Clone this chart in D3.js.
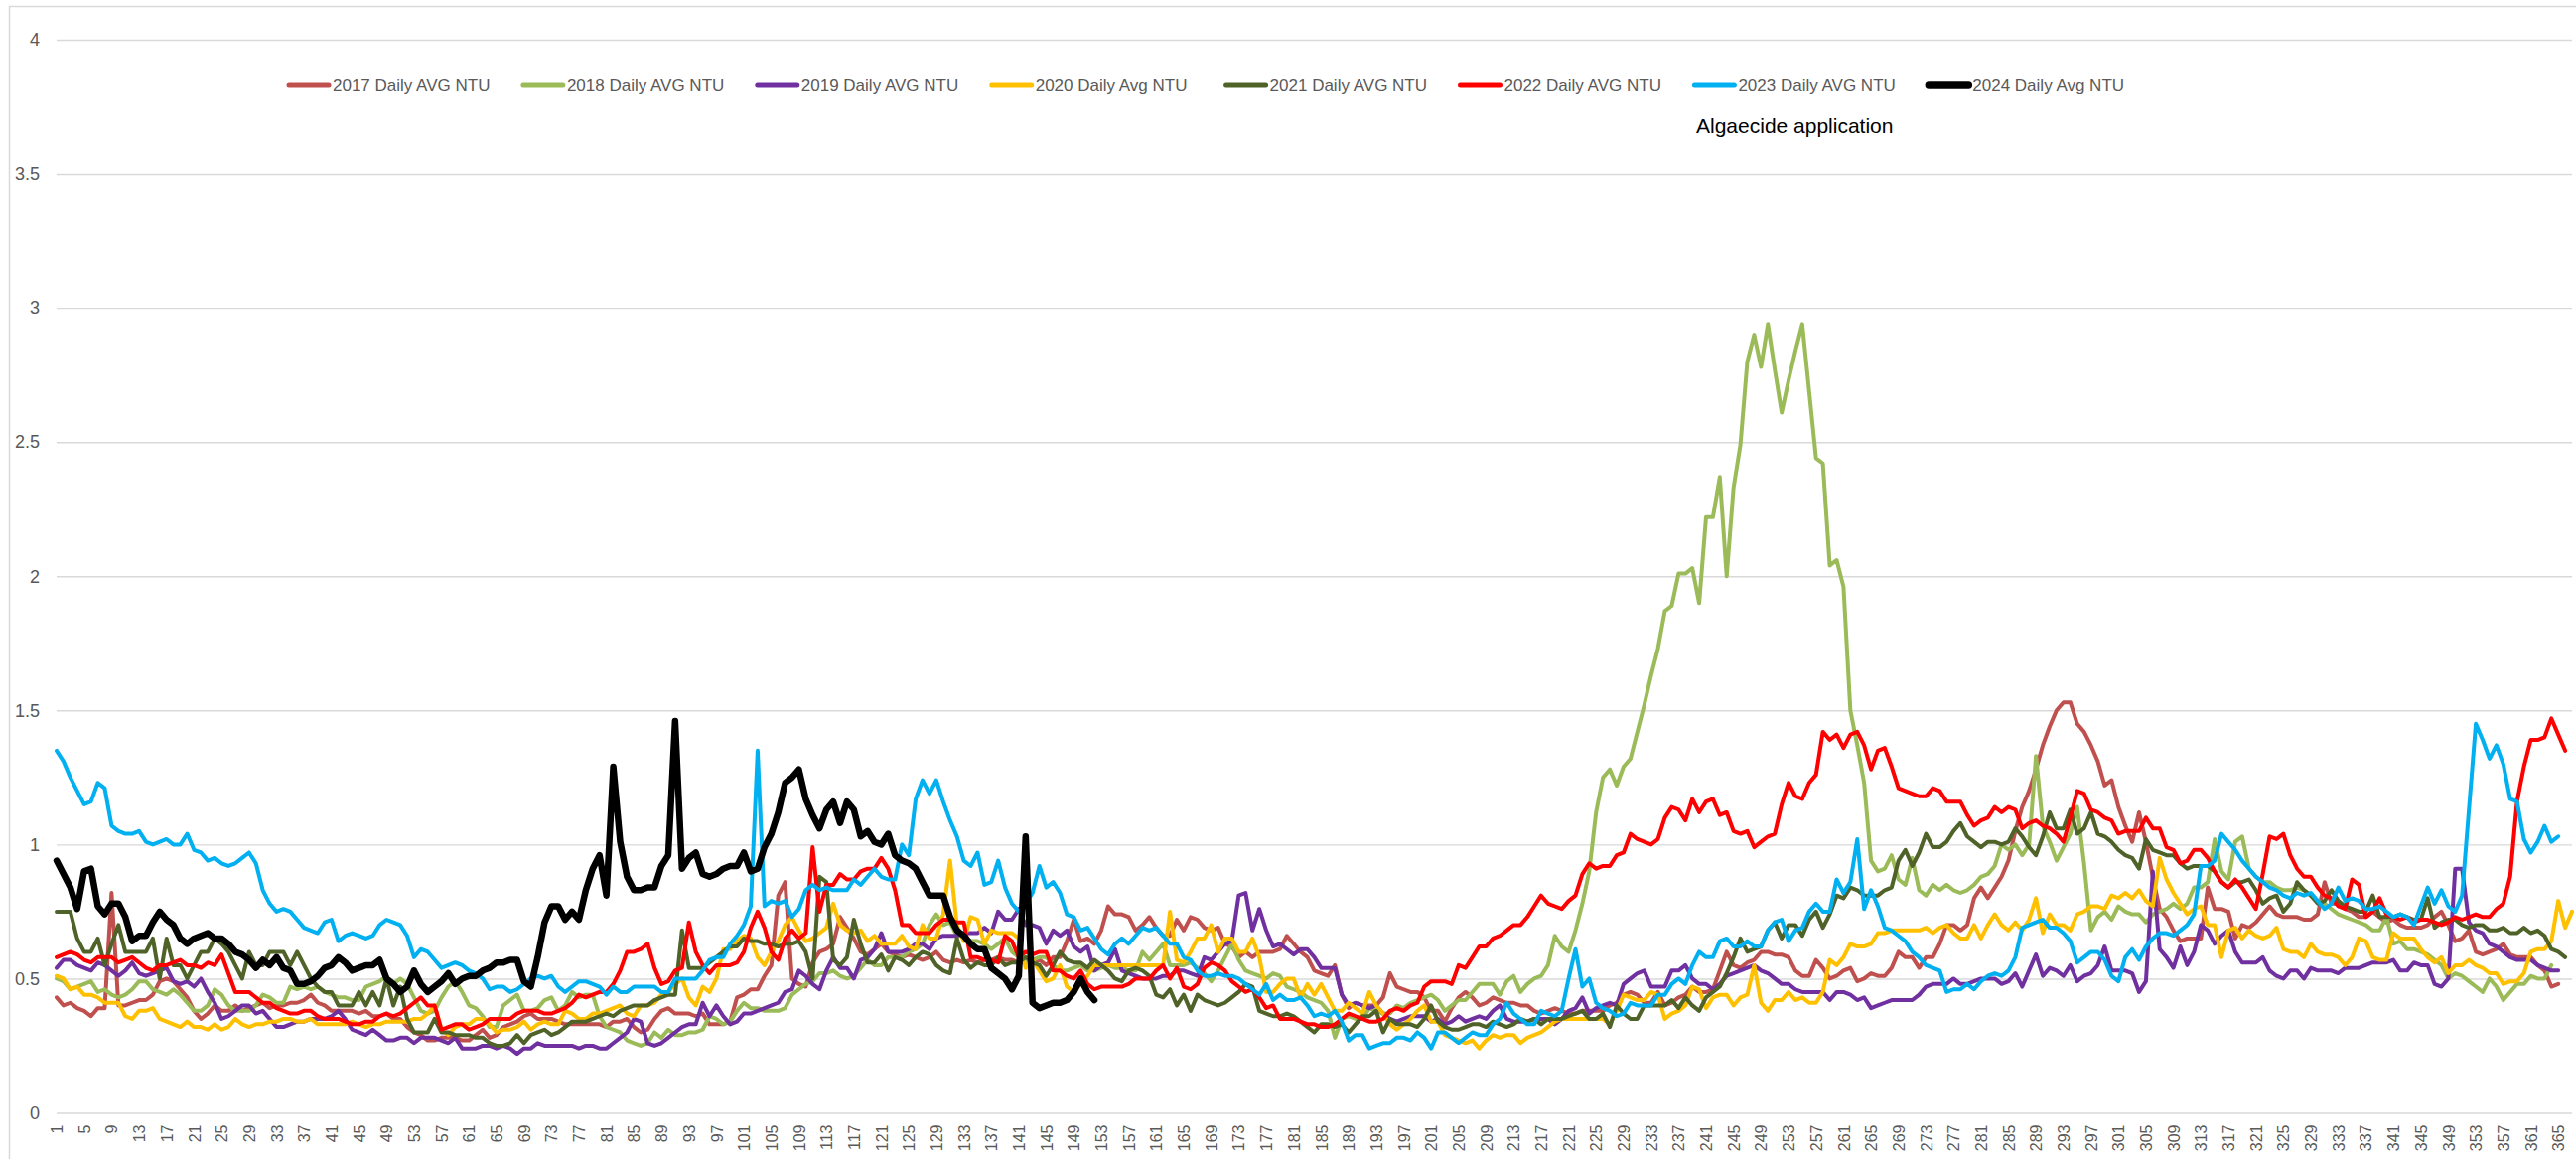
<!DOCTYPE html>
<html>
  <head>
    <title>Daily AVG NTU</title>
    <script src="https://d3js.org/d3.v7.min.js"></script>
    <style type="text/css">
      body {
        margin: 0;
        background: #ffffff;
      }
      text {
        font-family: "Liberation Sans", Arial, sans-serif;
        fill: #595959;
      }
      .grid line {
        stroke: #d9d9d9;
        stroke-width: 1.4px;
      }
      .series {
        fill: none;
        stroke-linejoin: round;
        stroke-linecap: round;
      }
    </style>
  </head>
  <body>
    <script>
      // Daily average turbidity (NTU), one array per year, day 1 first
      var ntu2017 = [
        0.43,0.40,0.41,0.39,0.38,0.36,0.39,0.39,0.82,0.40, 0.40,0.41,0.42,0.42,0.44,0.49,0.50,0.49,0.46,0.43,
        0.38,0.35,0.37,0.40,0.38,0.38,0.40,0.38,0.39,0.40, 0.41,0.39,0.40,0.40,0.41,0.41,0.42,0.44,0.41,0.40,
        0.38,0.38,0.38,0.38,0.37,0.38,0.36,0.36,0.37,0.35, 0.35,0.32,0.30,0.29,0.27,0.27,0.28,0.28,0.28,0.27,
        0.27,0.29,0.31,0.28,0.29,0.32,0.33,0.34,0.36,0.37, 0.35,0.35,0.35,0.34,0.33,0.33,0.33,0.33,0.33,0.33,
        0.32,0.34,0.34,0.35,0.32,0.30,0.31,0.35,0.38,0.39, 0.37,0.37,0.37,0.36,0.37,0.33,0.33,0.33,0.34,0.43,
        0.44,0.46,0.46,0.51,0.55,0.81,0.86,0.50,0.48,0.47, 0.56,0.60,0.61,0.63,0.73,0.69,0.65,0.60,0.59,0.61,
        0.63,0.60,0.59,0.58,0.59,0.58,0.57,0.58,0.60,0.57, 0.56,0.57,0.56,0.57,0.56,0.57,0.57,0.58,0.57,0.57,
        0.56,0.56,0.56,0.57,0.55,0.58,0.58,0.64,0.72,0.64, 0.65,0.63,0.68,0.77,0.74,0.74,0.73,0.68,0.70,0.73,
        0.69,0.66,0.66,0.72,0.68,0.73,0.72,0.69,0.68,0.69, 0.63,0.62,0.58,0.60,0.58,0.60,0.60,0.60,0.61,0.66,
        0.63,0.60,0.58,0.53,0.52,0.51,0.55,0.44,0.39,0.41, 0.40,0.40,0.40,0.43,0.52,0.47,0.46,0.45,0.45,0.43,
        0.38,0.38,0.34,0.39,0.43,0.45,0.43,0.40,0.41,0.43, 0.42,0.41,0.41,0.40,0.40,0.38,0.37,0.38,0.39,0.38,
        0.37,0.37,0.38,0.38,0.38,0.38,0.40,0.41,0.44,0.45, 0.44,0.41,0.41,0.45,0.40,0.41,0.43,0.44,0.47,0.45,
        0.45,0.46,0.53,0.60,0.55,0.54,0.56,0.57,0.60,0.60, 0.59,0.59,0.58,0.53,0.51,0.51,0.57,0.54,0.50,0.51,
        0.53,0.54,0.49,0.50,0.52,0.51,0.51,0.54,0.60,0.58, 0.58,0.54,0.58,0.58,0.63,0.70,0.70,0.68,0.70,0.80,
        0.84,0.80,0.84,0.88,0.94,1.05,1.14,1.20,1.28,1.37, 1.44,1.50,1.53,1.53,1.45,1.42,1.37,1.31,1.22,1.24,
        1.14,1.07,1.01,1.12,1.01,0.88,0.76,0.73,0.68,0.64, 0.65,0.65,0.65,0.84,0.76,0.76,0.75,0.65,0.70,0.69,
        0.71,0.74,0.77,0.74,0.73,0.73,0.73,0.72,0.72,0.74, 0.86,0.78,0.78,0.76,0.75,0.73,0.73,0.75,0.73,0.71,
        0.72,0.70,0.69,0.69,0.69,0.70,0.73,0.75,0.70,0.64, 0.65,0.68,0.60,0.59,0.60,0.61,0.63,0.59,0.58,0.58,
        0.58,0.55,0.53,0.47,0.48
      ];
      var ntu2018 = [
        0.50,0.49,0.46,0.47,0.48,0.49,0.45,0.46,0.44,0.43, 0.44,0.46,0.49,0.49,0.46,0.45,0.44,0.46,0.44,0.41,
        0.38,0.38,0.40,0.46,0.44,0.40,0.38,0.38,0.38,0.40, 0.44,0.43,0.41,0.41,0.47,0.46,0.47,0.46,0.47,0.45,
        0.44,0.43,0.43,0.42,0.42,0.47,0.48,0.49,0.51,0.48, 0.50,0.48,0.43,0.38,0.37,0.38,0.43,0.47,0.49,0.45,
        0.40,0.39,0.36,0.32,0.32,0.40,0.42,0.44,0.38,0.38, 0.39,0.42,0.43,0.38,0.40,0.45,0.43,0.44,0.44,0.36,
        0.32,0.31,0.30,0.27,0.26,0.25,0.26,0.30,0.28,0.31, 0.29,0.29,0.30,0.30,0.31,0.36,0.35,0.33,0.34,0.38,
        0.41,0.39,0.39,0.38,0.38,0.38,0.39,0.44,0.46,0.48, 0.49,0.52,0.52,0.53,0.51,0.50,0.51,0.54,0.57,0.55,
        0.55,0.58,0.58,0.58,0.60,0.61,0.63,0.70,0.74,0.70, 0.71,0.66,0.66,0.64,0.64,0.63,0.61,0.63,0.65,0.60,
        0.58,0.56,0.57,0.58,0.58,0.55,0.53,0.53,0.54,0.55, 0.53,0.53,0.54,0.55,0.54,0.54,0.53,0.53,0.60,0.57,
        0.60,0.63,0.55,0.55,0.55,0.56,0.54,0.52,0.49,0.53, 0.58,0.63,0.57,0.53,0.52,0.51,0.50,0.52,0.51,0.47,
        0.46,0.45,0.43,0.42,0.41,0.38,0.28,0.35,0.36,0.35, 0.35,0.39,0.38,0.37,0.37,0.40,0.39,0.41,0.42,0.43,
        0.44,0.42,0.38,0.40,0.42,0.42,0.45,0.48,0.48,0.48, 0.44,0.49,0.51,0.45,0.48,0.50,0.51,0.55,0.66,0.62,
        0.60,0.68,0.78,0.90,1.12,1.25,1.28,1.22,1.29,1.32, 1.42,1.52,1.63,1.73,1.87,1.89,2.01,2.01,2.03,1.90,
        2.22,2.22,2.37,2.00,2.33,2.49,2.80,2.90,2.78,2.94, 2.77,2.61,2.73,2.84,2.94,2.69,2.44,2.42,2.04,2.06,
        1.96,1.50,1.37,1.23,0.94,0.90,0.91,0.96,0.87,0.85, 0.95,0.83,0.81,0.85,0.83,0.85,0.83,0.82,0.83,0.85,
        0.88,0.89,0.92,1.00,0.98,1.00,0.96,1.00,1.33,1.07, 1.01,0.94,0.99,1.04,1.14,0.93,0.68,0.73,0.75,0.72,
        0.77,0.75,0.74,0.74,0.71,0.74,0.75,0.76,0.78,0.76, 0.78,0.84,0.84,0.86,1.02,0.90,0.87,1.01,1.03,0.91,
        0.88,0.86,0.86,0.84,0.83,0.83,0.84,0.83,0.81,0.79, 0.78,0.76,0.74,0.73,0.72,0.71,0.70,0.68,0.68,0.73,
        0.63,0.64,0.61,0.61,0.60,0.59,0.57,0.55,0.50,0.52, 0.51,0.49,0.47,0.45,0.50,0.47,0.42,0.45,0.48,0.48,
        0.51,0.50,0.50,0.55
      ];
      var ntu2019 = [
        0.54,0.57,0.57,0.55,0.54,0.53,0.56,0.55,0.53,0.51, 0.53,0.56,0.52,0.51,0.52,0.53,0.54,0.49,0.48,0.49,
        0.47,0.50,0.45,0.41,0.35,0.36,0.38,0.40,0.40,0.37, 0.38,0.35,0.32,0.32,0.33,0.34,0.34,0.35,0.35,0.35,
        0.36,0.38,0.35,0.31,0.30,0.29,0.31,0.29,0.27,0.27, 0.28,0.28,0.26,0.28,0.28,0.28,0.27,0.26,0.28,0.24,
        0.24,0.24,0.25,0.25,0.24,0.25,0.24,0.22,0.24,0.24, 0.26,0.25,0.25,0.25,0.25,0.25,0.24,0.25,0.25,0.24,
        0.24,0.26,0.28,0.30,0.35,0.34,0.26,0.25,0.26,0.28, 0.30,0.32,0.33,0.33,0.41,0.36,0.40,0.36,0.33,0.34,
        0.37,0.37,0.38,0.39,0.40,0.41,0.45,0.46,0.53,0.51, 0.48,0.46,0.53,0.58,0.54,0.54,0.50,0.57,0.58,0.61,
        0.67,0.60,0.60,0.60,0.61,0.63,0.63,0.61,0.65,0.66, 0.66,0.66,0.67,0.67,0.67,0.69,0.67,0.75,0.72,0.72,
        0.76,0.70,0.70,0.69,0.63,0.68,0.66,0.68,0.62,0.60, 0.62,0.53,0.55,0.56,0.61,0.53,0.52,0.51,0.50,0.50,
        0.50,0.51,0.51,0.53,0.53,0.52,0.51,0.58,0.57,0.60, 0.63,0.64,0.81,0.82,0.68,0.76,0.68,0.62,0.63,0.61,
        0.59,0.61,0.61,0.58,0.54,0.54,0.54,0.44,0.40,0.41, 0.40,0.39,0.40,0.37,0.35,0.34,0.35,0.36,0.36,0.36,
        0.34,0.35,0.33,0.34,0.36,0.34,0.35,0.36,0.35,0.38, 0.40,0.35,0.34,0.34,0.34,0.35,0.35,0.35,0.33,0.35,
        0.38,0.39,0.43,0.37,0.39,0.40,0.41,0.40,0.48,0.50, 0.52,0.53,0.47,0.47,0.47,0.53,0.53,0.55,0.50,0.48,
        0.48,0.46,0.48,0.51,0.52,0.53,0.54,0.55,0.53,0.52, 0.50,0.48,0.48,0.46,0.45,0.45,0.45,0.45,0.42,0.45,
        0.45,0.44,0.42,0.43,0.39,0.40,0.41,0.42,0.42,0.42, 0.42,0.44,0.47,0.48,0.48,0.48,0.50,0.48,0.48,0.49,
        0.50,0.50,0.50,0.48,0.49,0.52,0.47,0.53,0.59,0.51, 0.54,0.53,0.51,0.55,0.49,0.51,0.52,0.55,0.62,0.53,
        0.53,0.53,0.52,0.45,0.49,0.90,0.61,0.58,0.54,0.62, 0.55,0.60,0.70,0.68,0.63,0.66,0.68,0.60,0.56,0.56,
        0.56,0.58,0.53,0.51,0.50,0.53,0.53,0.50,0.54,0.53, 0.53,0.53,0.52,0.54,0.54,0.54,0.55,0.56,0.56,0.56,
        0.57,0.53,0.53,0.56,0.55,0.55,0.48,0.47,0.50,0.91, 0.91,0.71,0.68,0.67,0.63,0.62,0.60,0.58,0.57,0.57,
        0.57,0.55,0.54,0.53,0.53
      ];
      var ntu2020 = [
        0.51,0.50,0.46,0.47,0.44,0.44,0.43,0.41,0.41,0.41, 0.36,0.35,0.38,0.38,0.39,0.35,0.34,0.33,0.32,0.34,
        0.32,0.32,0.31,0.33,0.31,0.32,0.35,0.33,0.32,0.33, 0.33,0.34,0.34,0.35,0.35,0.34,0.34,0.35,0.33,0.33,
        0.33,0.33,0.33,0.34,0.33,0.32,0.33,0.33,0.34,0.34, 0.34,0.34,0.35,0.35,0.37,0.40,0.31,0.29,0.32,0.33,
        0.33,0.35,0.35,0.33,0.30,0.31,0.31,0.32,0.34,0.31, 0.33,0.34,0.33,0.33,0.38,0.37,0.35,0.35,0.37,0.37,
        0.38,0.39,0.40,0.37,0.36,0.40,0.40,0.41,0.44,0.45, 0.48,0.50,0.43,0.40,0.47,0.45,0.50,0.61,0.61,0.64,
        0.66,0.65,0.58,0.55,0.60,0.64,0.70,0.73,0.68,0.64, 0.65,0.67,0.69,0.78,0.70,0.68,0.67,0.68,0.64,0.66,
        0.63,0.63,0.63,0.66,0.62,0.61,0.70,0.65,0.65,0.74, 0.94,0.70,0.64,0.73,0.72,0.63,0.68,0.67,0.67,0.67,
        0.65,0.54,0.57,0.53,0.49,0.50,0.55,0.47,0.45,0.48, 0.51,0.55,0.55,0.55,0.55,0.55,0.55,0.55,0.55,0.55,
        0.55,0.55,0.75,0.57,0.56,0.60,0.65,0.65,0.70,0.60, 0.65,0.65,0.60,0.60,0.65,0.58,0.45,0.45,0.48,0.50,
        0.50,0.43,0.48,0.44,0.48,0.43,0.38,0.38,0.41,0.39, 0.37,0.45,0.40,0.37,0.33,0.31,0.33,0.35,0.38,0.40,
        0.34,0.34,0.29,0.28,0.27,0.26,0.27,0.24,0.27,0.29, 0.28,0.29,0.29,0.26,0.28,0.29,0.30,0.32,0.34,0.35,
        0.35,0.35,0.35,0.35,0.35,0.35,0.33,0.38,0.44,0.43, 0.42,0.42,0.45,0.44,0.35,0.37,0.38,0.40,0.47,0.46,
        0.39,0.43,0.44,0.44,0.40,0.43,0.44,0.55,0.41,0.38, 0.42,0.42,0.45,0.42,0.43,0.41,0.41,0.45,0.57,0.55,
        0.58,0.63,0.62,0.62,0.63,0.67,0.67,0.68,0.68,0.68, 0.68,0.68,0.69,0.67,0.69,0.70,0.67,0.65,0.65,0.70,
        0.65,0.70,0.74,0.70,0.68,0.71,0.68,0.72,0.80,0.67, 0.74,0.70,0.70,0.68,0.74,0.75,0.77,0.77,0.76,0.81,
        0.80,0.82,0.80,0.83,0.79,0.77,0.95,0.87,0.82,0.78, 0.74,0.76,0.77,0.70,0.70,0.58,0.68,0.69,0.65,0.68,
        0.66,0.65,0.66,0.69,0.61,0.60,0.60,0.58,0.63,0.60, 0.59,0.59,0.58,0.55,0.58,0.65,0.64,0.58,0.57,0.57,
        0.67,0.65,0.65,0.65,0.61,0.58,0.56,0.58,0.52,0.55, 0.55,0.57,0.55,0.54,0.52,0.52,0.48,0.49,0.49,0.52,
        0.60,0.61,0.61,0.64,0.79,0.69,0.75
      ];
      var ntu2021 = [
        0.75,0.75,0.75,0.65,0.60,0.60,0.65,0.55,0.63,0.70, 0.60,0.60,0.60,0.60,0.65,0.50,0.65,0.55,0.55,0.50,
        0.55,0.60,0.60,0.65,0.63,0.60,0.55,0.50,0.60,0.55, 0.55,0.60,0.60,0.60,0.55,0.60,0.55,0.50,0.47,0.45,
        0.45,0.40,0.40,0.40,0.45,0.40,0.45,0.40,0.50,0.40, 0.47,0.35,0.30,0.30,0.30,0.35,0.30,0.30,0.29,0.29,
        0.29,0.28,0.28,0.26,0.25,0.25,0.26,0.29,0.26,0.29, 0.30,0.31,0.29,0.30,0.32,0.34,0.34,0.34,0.35,0.36,
        0.37,0.36,0.38,0.39,0.40,0.40,0.40,0.42,0.43,0.44, 0.44,0.68,0.54,0.54,0.54,0.56,0.58,0.60,0.62,0.62,
        0.65,0.64,0.64,0.63,0.63,0.62,0.63,0.63,0.64,0.60, 0.50,0.88,0.86,0.57,0.55,0.58,0.72,0.63,0.56,0.56,
        0.59,0.53,0.58,0.57,0.55,0.58,0.60,0.59,0.55,0.53, 0.52,0.65,0.57,0.54,0.56,0.55,0.55,0.58,0.55,0.56,
        0.56,0.58,0.56,0.55,0.51,0.55,0.60,0.57,0.56,0.56, 0.54,0.57,0.55,0.53,0.50,0.49,0.53,0.54,0.53,0.51,
        0.44,0.43,0.46,0.40,0.44,0.38,0.44,0.42,0.41,0.40, 0.41,0.43,0.45,0.48,0.47,0.38,0.37,0.36,0.36,0.37,
        0.36,0.34,0.32,0.30,0.33,0.33,0.32,0.33,0.30,0.33, 0.36,0.36,0.38,0.30,0.35,0.33,0.33,0.33,0.32,0.35,
        0.40,0.34,0.32,0.31,0.31,0.32,0.33,0.33,0.32,0.34, 0.33,0.32,0.33,0.35,0.34,0.35,0.33,0.35,0.35,0.35,
        0.36,0.37,0.38,0.35,0.35,0.37,0.32,0.40,0.37,0.35, 0.35,0.40,0.40,0.40,0.40,0.42,0.39,0.43,0.40,0.38,
        0.43,0.45,0.47,0.52,0.58,0.65,0.60,0.61,0.62,0.68, 0.71,0.65,0.70,0.70,0.66,0.72,0.75,0.69,0.74,0.81,
        0.80,0.84,0.83,0.81,0.81,0.81,0.83,0.84,0.94,0.98, 0.92,0.97,1.04,0.99,0.99,1.01,1.05,1.08,1.03,1.01,
        0.99,1.01,1.01,1.00,1.01,1.06,1.03,0.99,0.96,1.03, 1.12,1.06,1.06,1.13,1.04,1.06,1.12,1.04,1.03,1.01,
        0.98,0.96,0.95,0.91,1.02,0.98,0.97,0.96,0.96,0.93, 0.91,0.92,0.92,0.92,0.90,0.86,0.84,0.86,0.86,0.87,
        0.83,0.78,0.80,0.81,0.75,0.78,0.86,0.83,0.81,0.78, 0.79,0.83,0.79,0.77,0.76,0.75,0.75,0.81,0.73,0.73,
        0.73,0.74,0.73,0.72,0.72,0.80,0.69,0.71,0.72,0.72, 0.70,0.69,0.70,0.70,0.68,0.68,0.69,0.67,0.67,0.69,
        0.67,0.68,0.66,0.61,0.60,0.58
      ];
      var ntu2022 = [
        0.58,0.59,0.60,0.59,0.57,0.56,0.58,0.58,0.58,0.56, 0.57,0.58,0.56,0.54,0.53,0.55,0.55,0.56,0.57,0.55,
        0.55,0.54,0.56,0.55,0.59,0.52,0.45,0.45,0.45,0.43, 0.41,0.41,0.39,0.38,0.37,0.37,0.38,0.38,0.36,0.35,
        0.35,0.35,0.34,0.33,0.33,0.34,0.34,0.36,0.37,0.36, 0.37,0.39,0.41,0.43,0.40,0.40,0.31,0.32,0.33,0.33,
        0.31,0.32,0.33,0.35,0.35,0.35,0.35,0.37,0.38,0.38, 0.38,0.37,0.37,0.38,0.39,0.41,0.44,0.43,0.44,0.45,
        0.45,0.48,0.53,0.60,0.60,0.61,0.63,0.54,0.48,0.49, 0.53,0.54,0.71,0.60,0.55,0.52,0.55,0.55,0.55,0.56,
        0.60,0.69,0.75,0.69,0.60,0.57,0.65,0.68,0.65,0.67, 0.99,0.75,0.85,0.85,0.89,0.87,0.87,0.90,0.91,0.91,
        0.95,0.91,0.83,0.70,0.70,0.67,0.67,0.67,0.70,0.72, 0.72,0.71,0.71,0.58,0.58,0.57,0.57,0.56,0.66,0.64,
        0.58,0.60,0.59,0.60,0.60,0.53,0.53,0.51,0.50,0.53, 0.48,0.46,0.47,0.47,0.47,0.47,0.48,0.50,0.50,0.50,
        0.53,0.55,0.50,0.54,0.47,0.46,0.48,0.54,0.56,0.55, 0.53,0.49,0.47,0.45,0.46,0.43,0.39,0.40,0.35,0.35,
        0.35,0.34,0.33,0.33,0.32,0.32,0.33,0.35,0.37,0.36, 0.35,0.34,0.34,0.35,0.38,0.39,0.38,0.40,0.41,0.47,
        0.49,0.49,0.49,0.48,0.55,0.54,0.58,0.62,0.62,0.65, 0.66,0.68,0.70,0.70,0.73,0.77,0.81,0.78,0.77,0.76,
        0.79,0.81,0.89,0.93,0.91,0.92,0.92,0.96,0.97,1.04, 1.02,1.01,1.00,1.02,1.10,1.14,1.13,1.09,1.17,1.12,
        1.16,1.17,1.11,1.12,1.05,1.04,1.05,0.99,1.01,1.03, 1.04,1.15,1.23,1.18,1.17,1.23,1.26,1.42,1.39,1.41,
        1.36,1.41,1.42,1.37,1.28,1.35,1.36,1.29,1.21,1.20, 1.19,1.18,1.18,1.21,1.20,1.16,1.16,1.16,1.11,1.07,
        1.09,1.10,1.14,1.12,1.14,1.13,1.06,1.08,1.09,1.07, 1.06,1.04,1.01,1.10,1.20,1.19,1.13,1.12,1.10,1.09,
        1.04,1.05,1.05,1.05,1.10,1.06,1.06,0.99,0.98,0.93, 0.94,0.98,0.98,0.95,0.90,0.86,0.84,0.87,0.84,0.80,
        0.76,0.89,1.03,1.02,1.04,0.96,0.91,0.88,0.88,0.84, 0.81,0.80,0.77,0.76,0.87,0.85,0.73,0.75,0.80,0.74,
        0.73,0.72,0.73,0.71,0.72,0.72,0.71,0.70,0.71,0.73, 0.72,0.73,0.74,0.73,0.73,0.76,0.78,0.88,1.16,1.29,
        1.39,1.39,1.40,1.47,1.41,1.35
      ];
      var ntu2023 = [
        1.35,1.31,1.25,1.20,1.15,1.16,1.23,1.21,1.07,1.05, 1.04,1.04,1.05,1.01,1.00,1.01,1.02,1.00,1.00,1.04,
        0.98,0.97,0.94,0.95,0.93,0.92,0.93,0.95,0.97,0.93, 0.83,0.78,0.75,0.76,0.75,0.72,0.69,0.68,0.67,0.71,
        0.72,0.64,0.66,0.67,0.66,0.65,0.66,0.70,0.72,0.71, 0.70,0.66,0.58,0.61,0.60,0.57,0.54,0.55,0.56,0.55,
        0.53,0.52,0.50,0.46,0.47,0.47,0.45,0.46,0.48,0.50, 0.51,0.50,0.51,0.47,0.45,0.47,0.49,0.49,0.48,0.47,
        0.44,0.47,0.45,0.45,0.47,0.47,0.47,0.47,0.45,0.45, 0.50,0.50,0.50,0.50,0.53,0.57,0.58,0.58,0.63,0.66,
        0.70,0.77,1.35,0.77,0.79,0.78,0.79,0.73,0.76,0.83, 0.85,0.83,0.84,0.83,0.83,0.83,0.87,0.85,0.88,0.91,
        0.88,0.87,0.87,1.00,0.96,1.17,1.24,1.19,1.24,1.16, 1.09,1.03,0.94,0.92,0.97,0.85,0.86,0.94,0.84,0.78,
        0.75,0.78,0.82,0.92,0.84,0.86,0.82,0.74,0.73,0.68, 0.69,0.65,0.61,0.59,0.63,0.65,0.63,0.66,0.69,0.68,
        0.69,0.66,0.63,0.63,0.58,0.57,0.53,0.51,0.51,0.52, 0.51,0.51,0.50,0.48,0.46,0.44,0.48,0.42,0.44,0.42,
        0.42,0.43,0.40,0.36,0.37,0.36,0.38,0.34,0.27,0.29, 0.29,0.24,0.25,0.26,0.26,0.28,0.28,0.27,0.30,0.28,
        0.24,0.30,0.30,0.28,0.26,0.28,0.30,0.29,0.29,0.33, 0.35,0.41,0.37,0.35,0.33,0.33,0.38,0.37,0.36,0.38,
        0.50,0.61,0.47,0.50,0.41,0.39,0.38,0.36,0.37,0.41, 0.40,0.40,0.40,0.44,0.44,0.48,0.50,0.48,0.55,0.60,
        0.58,0.58,0.64,0.65,0.62,0.62,0.64,0.62,0.62,0.68, 0.71,0.72,0.64,0.68,0.69,0.75,0.78,0.75,0.75,0.87,
        0.82,0.86,1.02,0.76,0.83,0.77,0.69,0.68,0.66,0.64, 0.60,0.58,0.55,0.54,0.53,0.45,0.46,0.46,0.48,0.46,
        0.49,0.51,0.52,0.51,0.53,0.58,0.69,0.70,0.71,0.72, 0.69,0.69,0.67,0.64,0.56,0.58,0.60,0.60,0.57,0.51,
        0.49,0.58,0.61,0.57,0.62,0.65,0.67,0.67,0.66,0.68, 0.70,0.74,0.92,0.92,0.94,1.04,1.01,0.98,0.94,0.91,
        0.88,0.86,0.84,0.83,0.81,0.80,0.82,0.81,0.82,0.79, 0.76,0.78,0.84,0.79,0.80,0.79,0.76,0.76,0.77,0.75,
        0.73,0.74,0.73,0.70,0.77,0.84,0.78,0.83,0.77,0.75, 0.81,1.13,1.45,1.39,1.32,1.37,1.30,1.17,1.16,1.02,
        0.97,1.01,1.07,1.01,1.03
      ];
      var ntu2024 = [
        0.94,0.89,0.84,0.76,0.90,0.91,0.77,0.74,0.78,0.78, 0.73,0.64,0.66,0.66,0.71,0.75,0.72,0.70,0.65,0.63,
        0.65,0.66,0.67,0.65,0.65,0.63,0.60,0.59,0.57,0.54, 0.57,0.55,0.58,0.54,0.53,0.48,0.48,0.49,0.51,0.54,
        0.55,0.58,0.56,0.53,0.54,0.55,0.55,0.57,0.50,0.48, 0.45,0.47,0.53,0.48,0.45,0.47,0.49,0.52,0.48,0.50,
        0.51,0.51,0.53,0.54,0.56,0.56,0.57,0.57,0.49,0.47, 0.58,0.71,0.77,0.77,0.72,0.75,0.72,0.83,0.91,0.96,
        0.81,1.29,1.01,0.88,0.83,0.83,0.84,0.84,0.92,0.96, 1.46,0.91,0.95,0.97,0.89,0.88,0.89,0.91,0.92,0.92,
        0.97,0.90,0.91,0.99,1.04,1.12,1.23,1.25,1.28,1.17, 1.11,1.06,1.13,1.16,1.08,1.16,1.13,1.03,1.05,1.01,
        1.00,1.04,0.96,0.94,0.93,0.91,0.86,0.81,0.81,0.81, 0.73,0.68,0.66,0.63,0.61,0.61,0.54,0.52,0.50,0.46,
        0.51,1.03,0.41,0.39,0.40,0.41,0.41,0.42,0.45,0.50, 0.45,0.42
      ];

      var seriesNames = ["2017 Daily AVG NTU", "2018 Daily AVG NTU", "2019 Daily AVG NTU", "2020 Daily Avg NTU",
                         "2021 Daily AVG NTU", "2022 Daily AVG NTU", "2023 Daily AVG NTU", "2024 Daily Avg NTU"];
      var seriesColors = ["#c0504d", "#9bbb59", "#7030a0", "#ffc000", "#4f6228", "#ff0000", "#00b0f0", "#000000"];
      var yTicks = [0, 0.5, 1, 1.5, 2, 2.5, 3, 3.5, 4];
      var dayCount = 367;
      var note = "Algaecide application";

      var series = [ntu2017, ntu2018, ntu2019, ntu2020, ntu2021, ntu2022, ntu2023, ntu2024].map(function(values, i) {
          return {name: seriesNames[i], color: seriesColors[i], values: values};
      });

      // SVG size and plot area
      var svgWidth = 2594;
      var svgHeight = 1167;
      var plotLeft = 57;
      var plotRight = 2590;
      var plotTop = 40;
      var plotBottom = 1120.5;

      var svg = d3.select("body")
                  .append("svg")
                  .attr("width", svgWidth)
                  .attr("height", svgHeight);

      // Chart border
      svg.append("rect")
         .attr("x", 9.5)
         .attr("y", 6.5)
         .attr("width", svgWidth)
         .attr("height", svgHeight)
         .attr("fill", "none")
         .attr("stroke", "#d9d9d9")
         .attr("stroke-width", 1.5);

      var days = d3.range(1, dayCount + 1);

      var xScale = d3.scalePoint()
                     .domain(days)
                     .range([plotLeft, plotRight]);

      var yScale = d3.scaleLinear()
                     .domain([0, 4])
                     .range([plotBottom, plotTop]);

      // Horizontal gridlines and y labels
      var yAxis = d3.axisLeft(yScale)
                    .tickValues(yTicks)
                    .tickSize(-(plotRight - plotLeft))
                    .tickPadding(17)
                    .tickFormat(d3.format("~g"));

      svg.append("g")
         .attr("class", "grid")
         .attr("transform", "translate(" + plotLeft + ",0)")
         .call(yAxis)
         .call(function(g) { g.select(".domain").remove(); })
         .selectAll("text")
         .attr("font-size", "18px");

      // x labels every fourth day, rotated
      var xAxis = d3.axisBottom(xScale)
                    .tickValues(days.filter(function(d) { return (d - 1) % 4 == 0; }))
                    .tickSize(0);

      var xg = svg.append("g")
                  .attr("transform", "translate(0," + plotBottom + ")")
                  .call(xAxis);
      xg.select(".domain").remove();
      xg.selectAll("text")
        .attr("font-size", "16px")
        .attr("transform", "rotate(-90)")
        .attr("text-anchor", "end")
        .attr("dy", "0.35em")
        .attr("x", -12)
        .attr("y", 0);

      // Lines, 2024 drawn last and thicker
      var line = d3.line()
                   .x(function(d, i) { return xScale(i + 1); })
                   .y(function(d) { return yScale(d); });

      svg.selectAll(".series")
         .data(series)
         .enter()
         .append("path")
         .attr("class", "series")
         .attr("stroke", function(d) { return d.color; })
         .attr("stroke-width", function(d, i) { return i == 7 ? 6.5 : 4; })
         .attr("d", function(d) { return line(d.values); });

      // Legend
      var legend = svg.selectAll(".legend")
                      .data(series)
                      .enter()
                      .append("g")
                      .attr("class", "legend")
                      .attr("transform", function(d, i) { return "translate(" + (289 + i * 235.9) + ",86)"; });

      legend.append("line")
            .attr("x1", 2)
            .attr("x2", 42)
            .attr("stroke", function(d) { return d.color; })
            .attr("stroke-width", function(d, i) { return i == 7 ? 7.5 : 5; })
            .attr("stroke-linecap", "round");

      legend.append("text")
            .attr("x", 46)
            .attr("dy", "0.35em")
            .attr("font-size", "17px")
            .text(function(d) { return d.name; });

      // Annotation
      svg.append("text")
         .attr("x", 1708)
         .attr("y", 134)
         .attr("font-size", "21px")
         .style("fill", "#000000")
         .text(note);
    </script>
  </body>
</html>
